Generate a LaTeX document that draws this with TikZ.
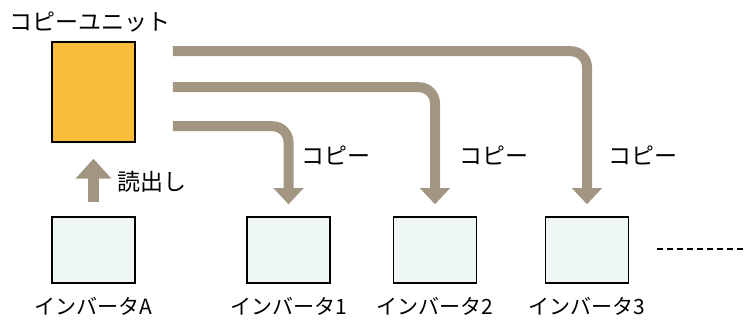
\documentclass[tikz,border=0pt]{standalone}
\usepackage{fontspec}
\setmainfont{Noto Sans CJK JP}
\usetikzlibrary{arrows.meta,calc,positioning}
\definecolor{unitorange}{HTML}{F9BD3B}
\definecolor{invfill}{HTML}{EEF7F5}
\definecolor{bandgray}{HTML}{A29682}

\begin{document}
\begin{tikzpicture}[x=1pt,y=-1pt,>=latex,
	unitbox/.style={draw=black,line width=1.5pt,fill=unitorange,minimum width=83pt,minimum height=100pt,inner sep=0pt},
	invbox/.style={draw=black,line width=1.5pt,fill=invfill,minimum width=83pt,minimum height=66pt,inner sep=0pt},
	lbl/.style={font=\fontsize{23}{26}\selectfont,inner sep=0pt},
	namelbl/.style={font=\fontsize{21}{24}\selectfont,inner sep=0pt},
	copyarrow/.style={draw=bandgray,line width=10pt,rounded corners=16pt,-{Triangle[width=29pt,length=16pt]}},
	readarrow/.style={draw=bandgray,line width=11pt,-{Triangle[width=35pt,length=20pt]}}]
	
	\useasboundingbox (0,0) rectangle (744,320);
	
	% Copy unit and the inverters
	\node[unitbox] (cu) at (93.5,92) {};
	\node[lbl,anchor=west] (cutitle) at (9,22) {コピーユニット};
	\node[invbox] (invA) at (93.5,250) {};
	\node[invbox] (inv1) at (288.5,250) {};
	\node[invbox] (inv2) at (435,250) {};
	\node[invbox] (inv3) at (587,250) {};
	
	% Names below the boxes
	\node[namelbl,below=13pt of invA] (nameA) {インバータA};
	\node[namelbl,below=13pt of inv1] (name1) {インバータ1};
	\node[namelbl,below=13pt of inv2] (name2) {インバータ2};
	\node[namelbl,below=13pt of inv3] (name3) {インバータ3};
	
	% Read arrow
	\draw[readarrow] ([yshift=14pt]invA.north) -- ([yshift=-16pt]cu.south);
	\node[lbl,anchor=west] (readlbl) at (117,182) {読出し};
	
	% Copy arrows
	\draw[copyarrow] ($(cu.north east)+(37,85)$) -| ([yshift=12pt]inv1.north);
	\draw[copyarrow] ($(cu.north east)+(37,46)$) -| ([yshift=12pt]inv2.north);
	\draw[copyarrow] ($(cu.north east)+(37,10)$) -| ([yshift=12pt]inv3.north);
	\node[lbl,anchor=west] (copy1) at (301,155) {コピー};
	\node[lbl,anchor=west] (copy2) at (459,155) {コピー};
	\node[lbl,anchor=west] (copy3) at (608,155) {コピー};
	
	% More inverters follow
	\coordinate (more) at (744,249);
	\draw[line width=1.2pt,dash pattern=on 6pt off 4pt] ([xshift=28pt]inv3.east |- more) -- (more);
	
\end{tikzpicture}
\end{document}
